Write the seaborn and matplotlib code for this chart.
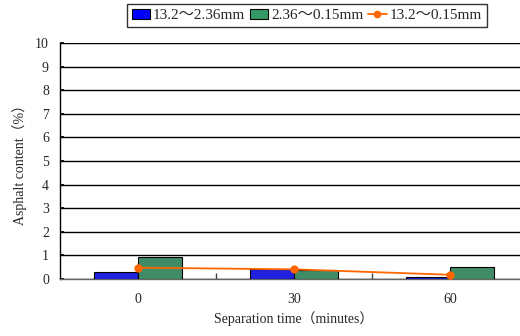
import matplotlib
matplotlib.use("Agg")
import matplotlib.pyplot as plt
from matplotlib.patches import Patch
from matplotlib.lines import Line2D
import seaborn as sns
import pandas as pd

# Separation time categories and measured asphalt contents (%)
times = ["0", "30", "60"]
coarse = [0.30, 0.42, 0.08]     # 13.2～2.36mm
fine = [0.95, 0.37, 0.50]       # 2.36～0.15mm
total = [0.48, 0.41, 0.18]      # 13.2～0.15mm
series_names = ["13.2～2.36mm", "2.36～0.15mm", "13.2～0.15mm"]

sns.set_theme(style="white")
plt.rcParams["font.family"] = ["Liberation Serif", "Noto Sans CJK JP", "DejaVu Sans"]

bars = pd.DataFrame({
    "time": times * 2,
    "value": coarse + fine,
    "series": [series_names[0]] * 3 + [series_names[1]] * 3,
})
line = pd.DataFrame({"time": times, "value": total})

fig = plt.figure(figsize=(5.2, 3.36), dpi=100)
ax = fig.add_axes([0.1154, 0.1696, 0.90, 0.7024])

blue, green, orange = "#0000FF", "#339966", "#FF6600"
sns.barplot(data=bars, x="time", y="value", hue="series", order=times,
            palette=[blue, green], width=0.57, edgecolor="black",
            linewidth=0.8, ax=ax, legend=False, zorder=3)
sns.pointplot(data=line, x="time", y="value", order=times, color=orange,
              markers="o", markersize=5, linewidth=1.3, ax=ax, zorder=4)

ax.set_ylim(0, 10)
ax.set_xlim(-0.5, 2.5)
ax.set_yticks(range(0, 11))
ax.yaxis.grid(True, color="black", linewidth=1.0)
ax.set_axisbelow(True)
for s in ["top", "right"]:
    ax.spines[s].set_visible(False)
ax.spines["left"].set_color("black")
ax.spines["left"].set_linewidth(1.0)
ax.spines["bottom"].set_color("#666666")
ax.spines["bottom"].set_linewidth(1.0)

ax.set_xticks([0.5, 1.5], minor=True)
ax.tick_params(axis="x", which="minor", direction="in", length=4,
               color="#444444", bottom=True)
ax.tick_params(axis="x", which="major", length=0, labelsize=10, pad=10)
ax.tick_params(axis="y", direction="in", length=3, color="black",
               left=True, labelsize=10, pad=8)

ax.set_xlabel("Separation time（minutes）", fontsize=10, labelpad=4)
ax.set_ylabel("Asphalt content（%）", fontsize=10, labelpad=6)

handles = [
    Patch(facecolor=blue, edgecolor="black", linewidth=0.8),
    Patch(facecolor=green, edgecolor="black", linewidth=0.8),
    Line2D([0], [0], color=orange, marker="o", markersize=4.5, linewidth=1.3),
]
leg = fig.legend(handles, series_names, loc="upper center",
                 bbox_to_anchor=(0.59, 0.988), ncol=3, frameon=True,
                 fancybox=False, edgecolor="black", fontsize=11,
                 handlelength=1.2, handleheight=0.6, handletextpad=0.2,
                 columnspacing=0.3, borderpad=0.32, borderaxespad=0.0)
leg.get_frame().set_linewidth(1.0)

fig.savefig("out.png", dpi=100)
